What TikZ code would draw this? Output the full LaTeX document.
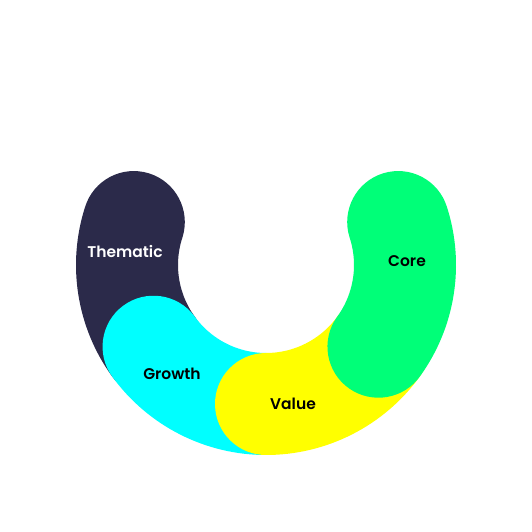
\documentclass[tikz,border=0pt]{standalone}
\usepackage{fontspec}
\setmainfont{Poppins}
\newfontfamily\lblfont{Poppins SemiBold}
\definecolor{navy}{HTML}{2B2A4A}
\definecolor{cyanc}{HTML}{00FFFF}
\definecolor{yel}{HTML}{FFFF00}
\definecolor{grn}{HTML}{00FF78}
\tikzset{
  seg/.style={line width=102pt, line cap=round},
  lbl/.style={font=\lblfont\fontsize{15.5}{18}\selectfont, inner sep=0pt}
}
\begin{document}
\begin{tikzpicture}[x=1pt,y=1pt]
\useasboundingbox (0,0) rectangle (532,531);
\coordinate (c) at (266,266);
\draw[seg, navy] ([shift={(162:139)}]c) arc[start angle=162, end angle=216, radius=139];
\draw[seg, cyanc] ([shift={(216:139)}]c) arc[start angle=216, end angle=270, radius=139];
\draw[seg, yel] ([shift={(270:139)}]c) arc[start angle=270, end angle=324, radius=139];
\draw[seg, grn] ([shift={(324:139)}]c) arc[start angle=324, end angle=378, radius=139];
\node[lbl, white] (thematic) at (125,280) {Thematic};
\node[lbl, black] (growth) at (172,157) {Growth};
\node[lbl, black] (value) at (293,127) {Value};
\node[lbl, black] (core) at (407,270) {Core};
\end{tikzpicture}
\end{document}
